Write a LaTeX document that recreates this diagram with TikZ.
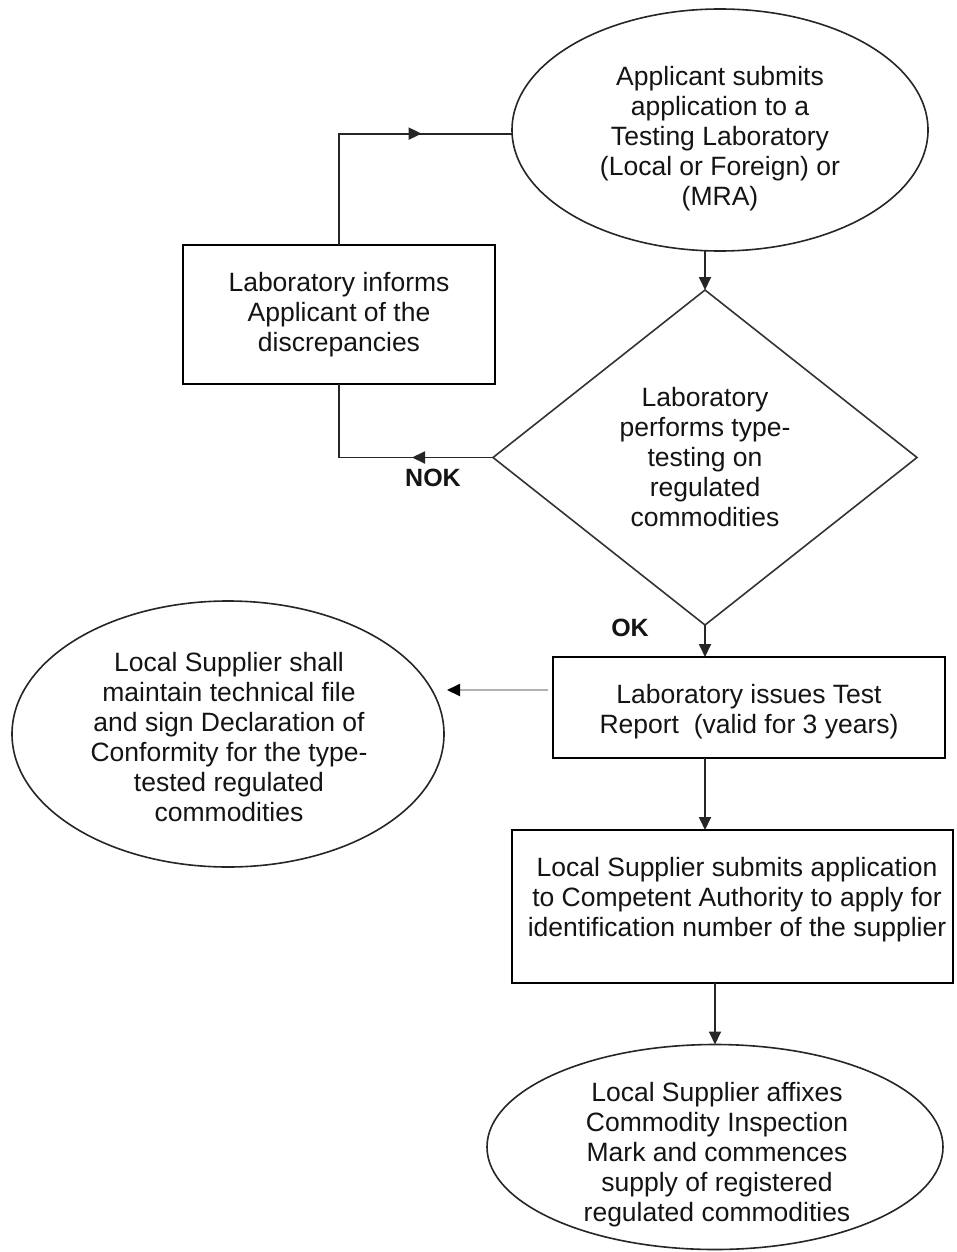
\documentclass[tikz,border=0pt]{standalone}
\usepackage{fontspec}
\setmainfont{Liberation Sans}
\usetikzlibrary{shapes.geometric,arrows.meta,decorations.markings}
\begin{document}
\begin{tikzpicture}[x=1pt,y=-1pt,
  every node/.style={font=\fontsize{26.5}{30}\selectfont, align=center, inner sep=0pt, outer sep=0pt, text=black!92},
  ell/.style={ellipse, draw=black!85, line width=1.6pt},
  box/.style={rectangle, draw=black, line width=2pt},
  decide/.style={diamond, draw=black!80, line width=1.6pt},
  lbl/.style={font=\fontsize{25}{30}\selectfont\bfseries},
  conn/.style={draw=black!85, line width=1.8pt, -{Triangle[length=13pt,width=12pt]}},
  loopline/.style={draw=black!85, line width=1.8pt, postaction={decorate},
    decoration={markings, mark=at position #1 with {\arrow{Triangle[length=13pt,width=12pt]}}}},
  garr/.style={draw=black!30, line width=2pt, -{Triangle[length=13pt,width=12pt,color=black]}}
]
\useasboundingbox (0,0) rectangle (956,1252);
\fill[white] (0,0) rectangle (956,1252);

% shapes
\node[ell, minimum width=416pt, minimum height=242pt] (app) at (720,130) {};
\node[box, minimum width=312pt, minimum height=139pt] (inf) at (339,314.5) {};
\node[decide, minimum width=424pt, minimum height=335pt] (tst) at (705,457.5) {};
\node[box, minimum width=392pt, minimum height=101pt] (rep) at (749,707.5) {};
\node[ell, minimum width=432pt, minimum height=266pt] (dcl) at (228,734) {};
\node[box, minimum width=441pt, minimum height=153pt] (sup) at (732.5,906.5) {};
\node[ell, minimum width=456pt, minimum height=205pt] (fin) at (715,1147) {};

% texts
\node (appT) at (720,139)
  {Applicant submits\\application to a\\Testing Laboratory\\(Local or Foreign) or\\(MRA)};
\node (infT) at (339,314.5)
  {Laboratory informs\\Applicant of the\\discrepancies};
\node (tstT) at (705,457.5)
  {Laboratory\\performs type-\\testing on\\regulated\\commodities};
\node (repT) at (749,712)
  {Laboratory issues Test\\Report\ \ (valid for 3 years)};
\node (dclT) at (229,737)
  {Local Supplier shall\\maintain technical file\\and sign Declaration of\\Conformity for the type-\\tested regulated\\commodities};
\node (supT) at (737,900)
  {Local Supplier submits application\\to Competent Authority to apply for\\identification number of the supplier};
\node (finT) at (717,1155)
  {Local Supplier affixes\\Commodity Inspection\\Mark and commences\\supply of registered\\regulated commodities};

\node[lbl] (nok) at (433,478) {NOK};
\node[lbl] (ok) at (630,628) {OK};

% connectors
\draw[conn] (tst.north |- app.south) -- (tst.north);
\draw[conn] (tst.south) -- (tst.south |- rep.north);
\draw[conn] (tst.south |- rep.south) -- (tst.south |- sup.north);
\draw[conn] (fin.north |- sup.south) -- (fin.north);

\draw[loopline=194pt] (inf.north) |- (app.181.9);
\draw[loopline=81pt] (tst.west) -| (inf.south);

\coordinate (gend) at (447,690);
\draw[garr, shorten <=5pt] (rep.west |- gend) -- (gend);
\end{tikzpicture}
\end{document}
